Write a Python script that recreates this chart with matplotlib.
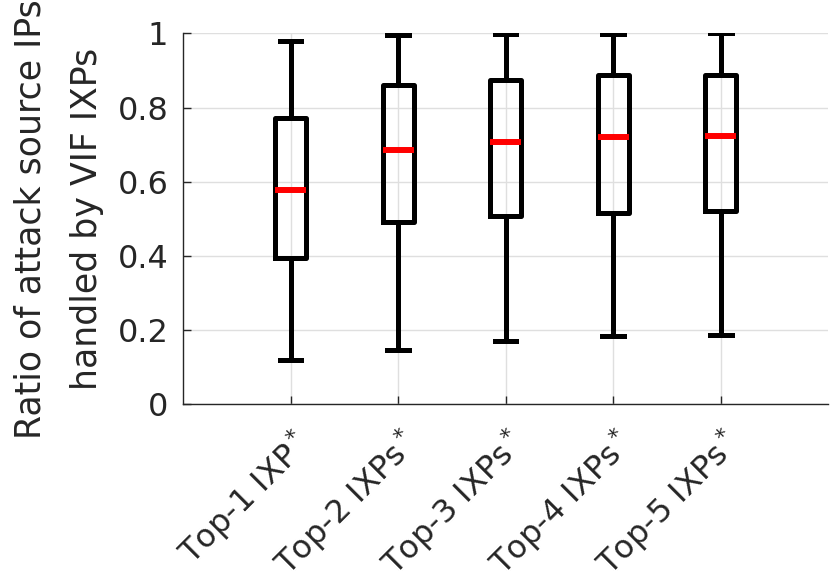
import matplotlib
matplotlib.use("Agg")
import matplotlib.pyplot as plt

plt.rcParams["font.family"] = ["DejaVu Sans"]
plt.rcParams["mathtext.fontset"] = "dejavusans"

# box statistics
labels = ["Top-1 IXP", "Top-2 IXPs", "Top-3 IXPs", "Top-4 IXPs", "Top-5 IXPs"]
whisker_lo = [0.119, 0.146, 0.171, 0.184, 0.188]
q1 = [0.395, 0.492, 0.508, 0.515, 0.521]
median = [0.578, 0.686, 0.706, 0.721, 0.724]
q3 = [0.771, 0.862, 0.873, 0.888, 0.889]
whisker_hi = [0.979, 0.995, 0.997, 0.999, 1.0]

stats = []
for i in range(len(labels)):
    stats.append(dict(whislo=whisker_lo[i], q1=q1[i], med=median[i],
                      q3=q3[i], whishi=whisker_hi[i], fliers=[]))

fig = plt.figure(figsize=(8.3, 5.85), dpi=100)
ax = fig.add_axes([0.2205, 0.309, 0.7775, 0.634])

lw = 3.6
ax.bxp(stats, positions=range(1, 6), widths=0.29, capwidths=0.2,
       showfliers=False,
       boxprops=dict(color="black", linewidth=lw),
       whiskerprops=dict(color="black", linewidth=lw, solid_capstyle="butt"),
       capprops=dict(color="black", linewidth=lw),
       medianprops=dict(color="#ff0000", linewidth=4.3, solid_capstyle="butt"),
       zorder=3)

ax.set_xlim(0, 6)
ax.set_ylim(0, 1)
ax.set_yticks([0, 0.2, 0.4, 0.6, 0.8, 1.0])
ax.set_yticklabels(["0", "0.2", "0.4", "0.6", "0.8", "1"])
ax.set_xticks(range(1, 6))
ax.set_xticklabels([l + "$^*$" for l in labels], rotation=45, ha="right",
                   rotation_mode="anchor")

ax.grid(True, color="#dfdfdf", linewidth=1.0, zorder=0)
ax.set_axisbelow(True)
for s in ["top", "right"]:
    ax.spines[s].set_visible(False)
for s in ["left", "bottom"]:
    ax.spines[s].set_color("#262626")
    ax.spines[s].set_linewidth(1.0)

ax.tick_params(direction="in", length=6, width=1, colors="#262626",
               labelsize=23, labelcolor="#262626")
ax.tick_params(axis="y", pad=10.5)
ax.tick_params(axis="x", pad=14)
ax.set_ylabel("Ratio of attack source IPs\nhandled by VIF IXPs",
              fontsize=25, color="#262626", labelpad=10, linespacing=1.8)

fig.savefig("out.png", dpi=100)
